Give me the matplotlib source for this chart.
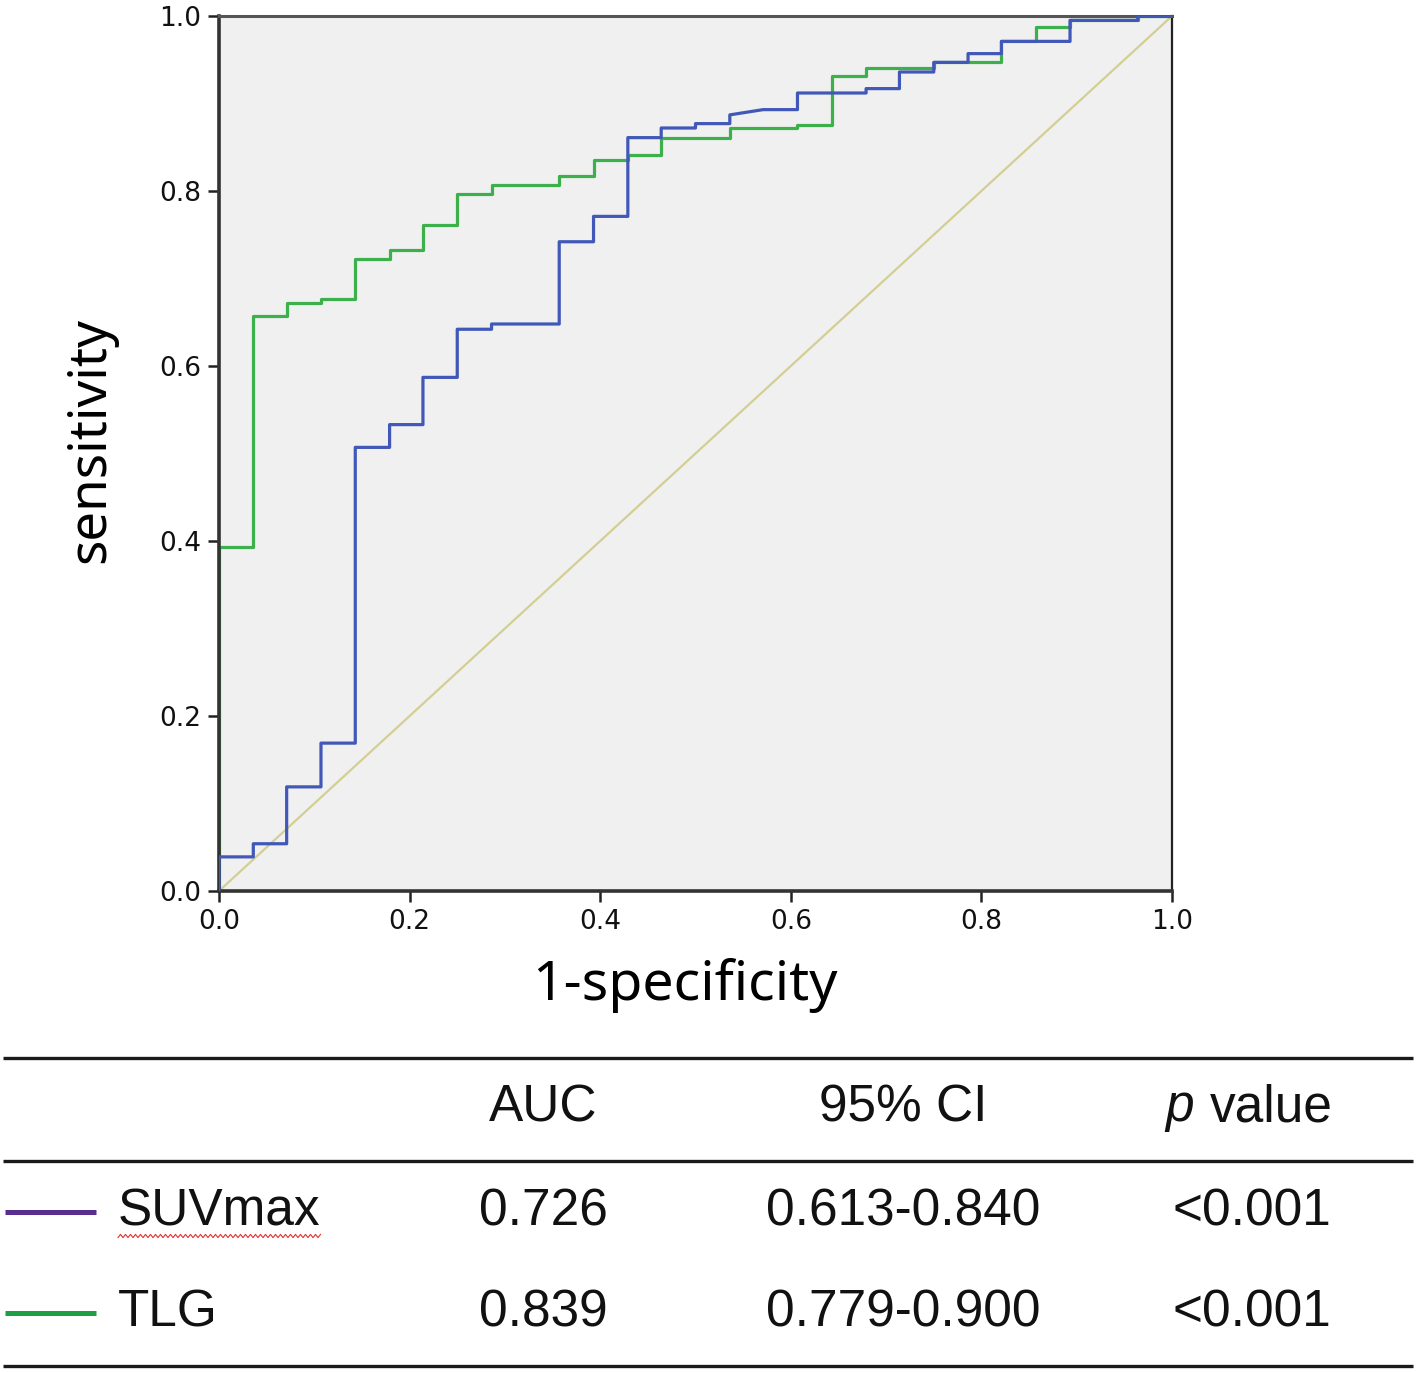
import numpy as np
import matplotlib
matplotlib.use("Agg")
import matplotlib.pyplot as plt

# ROC vertices
suv_fpr = [0, 0, 0.036, 0.036, 0.071, 0.071, 0.107, 0.107, 0.143, 0.143, 0.179, 0.179,
           0.214, 0.214, 0.25, 0.25, 0.286, 0.286, 0.357, 0.357, 0.393, 0.393, 0.429, 0.429,
           0.464, 0.464, 0.5, 0.5, 0.536, 0.536, 0.571, 0.607, 0.607, 0.679, 0.679, 0.714,
           0.714, 0.75, 0.75, 0.786, 0.786, 0.821, 0.821, 0.893, 0.893, 0.964, 0.964, 1.0]
suv_tpr = [0, 0.039, 0.039, 0.054, 0.054, 0.119, 0.119, 0.169, 0.169, 0.507, 0.507, 0.533,
           0.533, 0.587, 0.587, 0.642, 0.642, 0.648, 0.648, 0.742, 0.742, 0.771, 0.771, 0.861,
           0.861, 0.872, 0.872, 0.877, 0.877, 0.887, 0.893, 0.893, 0.912, 0.912, 0.917, 0.917,
           0.936, 0.936, 0.947, 0.947, 0.957, 0.957, 0.971, 0.971, 0.995, 0.995, 1.0, 1.0]

tlg_fpr = [0, 0, 0.036, 0.036, 0.071, 0.071, 0.107, 0.107, 0.143, 0.143, 0.179, 0.179,
           0.214, 0.214, 0.25, 0.25, 0.286, 0.286, 0.357, 0.357, 0.393, 0.393, 0.429, 0.429,
           0.464, 0.464, 0.536, 0.536, 0.607, 0.607, 0.643, 0.643, 0.679, 0.679, 0.75, 0.75,
           0.821, 0.821, 0.857, 0.857, 0.893, 0.893, 0.964, 0.964, 1.0]
tlg_tpr = [0, 0.393, 0.393, 0.657, 0.657, 0.672, 0.672, 0.677, 0.677, 0.722, 0.722, 0.733,
           0.733, 0.761, 0.761, 0.797, 0.797, 0.807, 0.807, 0.817, 0.817, 0.836, 0.836, 0.841,
           0.841, 0.861, 0.861, 0.872, 0.872, 0.875, 0.875, 0.931, 0.931, 0.941, 0.941, 0.947,
           0.947, 0.971, 0.971, 0.988, 0.988, 0.995, 0.995, 1.0, 1.0]

ticks = [0.0, 0.2, 0.4, 0.6, 0.8, 1.0]
tick_labels = ["0.0", "0.2", "0.4", "0.6", "0.8", "1.0"]

# summary table
tbl_header = ["AUC", "95% CI"]
tbl_names = ["SUVmax", "TLG"]
tbl_auc = ["0.726", "0.839"]
tbl_ci = ["0.613-0.840", "0.779-0.900"]
tbl_p = ["<0.001", "<0.001"]
tbl_colors = ["#5a2d91", "#1f9e44"]

W, H = 1418, 1373
fig = plt.figure(figsize=(W / 100, H / 100), dpi=100)

ax = fig.add_axes([219 / W, 1 - 891 / H, (1172 - 219) / W, (891 - 16) / H])
ax.set_facecolor("#f0f0f0")
ax.plot([0, 1], [0, 1], color="#d3cf93", lw=1.6, zorder=1)
ax.plot(suv_fpr, suv_tpr, color="#4158b8", lw=2.3, zorder=3)
ax.plot(tlg_fpr, tlg_tpr, color="#3cb04b", lw=2.3, zorder=2)
ax.set_xlim(0, 1)
ax.set_ylim(0, 1)

ax.set_xticks(ticks)
ax.set_xticklabels(tick_labels)
ax.set_yticks(ticks)
ax.set_yticklabels(tick_labels)
ax.tick_params(direction="out", length=8, width=1.8, color="#222222", pad=5,
               labelsize=19, labelcolor="#111111")
for lbl in ax.get_xticklabels() + ax.get_yticklabels():
    lbl.set_family("Liberation Sans Narrow")

for side in ["left", "bottom"]:
    ax.spines[side].set_linewidth(2.6)
    ax.spines[side].set_color("#333333")
ax.spines["top"].set_linewidth(2.2)
ax.spines["top"].set_color("#555555")
ax.spines["right"].set_linewidth(1.6)
ax.spines["right"].set_color("#222222")

ax.set_xlabel("1-specificity", fontsize=40, family="Noto Sans")
ax.set_ylabel("sensitivity", fontsize=38, family="Noto Sans")
ax.xaxis.set_label_coords(0.489, -0.076)
ax.yaxis.set_label_coords(-0.107, 0.515)

# table drawn in pixel coordinates of the whole figure
tb = fig.add_axes([0, 0, 1, 1], zorder=-1)
tb.set_xlim(0, W)
tb.set_ylim(H, 0)
tb.axis("off")
for yl in [1058, 1161, 1366]:
    tb.plot([3, 1413], [yl, yl], color="#1a1a1a", lw=2.4, solid_capstyle="butt")

tfont = dict(family="Liberation Sans", fontsize=37, color="#111111", va="center")
tb.text(543, 1108, tbl_header[0], ha="center", **tfont)
tb.text(903, 1108, tbl_header[1], ha="center", fontstretch="condensed", **tfont)
tb.text(1165, 1108, "p", ha="left", style="italic", **tfont)
tb.text(1210, 1108, "value", ha="left", **tfont)

row_y = [1212, 1313]
for i in range(len(tbl_names)):
    y = row_y[i]
    tb.plot([5, 96], [y, y], color=tbl_colors[i], lw=3.6, solid_capstyle="butt")
    tb.text(118, y, tbl_names[i], ha="left", **tfont)
    tb.text(543, y, tbl_auc[i], ha="center", **tfont)
    tb.text(903, y, tbl_ci[i], ha="center", **tfont)
    tb.text(1252, y, tbl_p[i], ha="center", **tfont)

# spell-check squiggle under SUVmax
zx = np.arange(118, 323, 2.5)
zy = 1236 + 1.6 * (-1) ** np.arange(len(zx))
tb.plot(zx, zy, color="#e03030", lw=0.8)

fig.savefig("out.png", dpi=100)
